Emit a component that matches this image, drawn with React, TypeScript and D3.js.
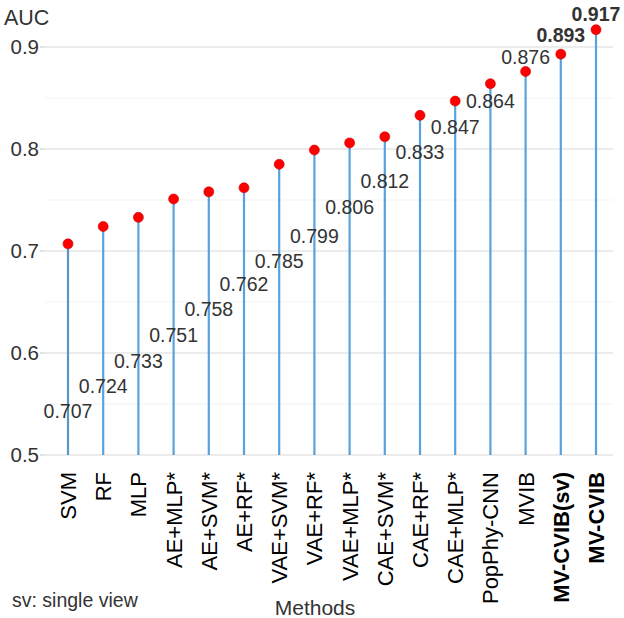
import React from 'react';
import * as d3 from 'd3';

const methods: string[] = [
    'SVM', 'RF', 'MLP', 'AE+MLP*', 'AE+SVM*', 'AE+RF*', 'VAE+SVM*', 'VAE+RF*',
    'VAE+MLP*', 'CAE+SVM*', 'CAE+RF*', 'CAE+MLP*', 'PopPhy-CNN', 'MVIB', 'MV-CVIB(sv)', 'MV-CVIB',
];
const auc: number[] = [
    0.707, 0.724, 0.733, 0.751, 0.758, 0.762, 0.785, 0.799,
    0.806, 0.812, 0.833, 0.847, 0.864, 0.876, 0.893, 0.917,
];
// where the value labels sit, in AUC units
const labelAt: number[] = [
    0.543, 0.568, 0.592, 0.618, 0.643, 0.668, 0.69, 0.715,
    0.743, 0.769, 0.797, 0.822, 0.847, 0.89, 0.912, 0.932,
];
const boldMethods: string[] = ['MV-CVIB(sv)', 'MV-CVIB'];
const majorTicks: number[] = [0.5, 0.6, 0.7, 0.8, 0.9];
const minorTicks: number[] = [0.55, 0.65, 0.75, 0.85];

const FONT = '"Liberation Sans", Arial, Helvetica, sans-serif';

const App: React.FC = () => {
    const width = 624;
    const height = 618;
    const plotLeft = 45;
    const plotRight = 613;

    const x = d3.scalePoint<string>().domain(methods).range([68, 596]);
    const y = d3.scaleLinear().domain([0.5, 0.9]).range([455, 47]);
    const fmt = d3.format('.1f');

    return (
        <svg
            width={width}
            height={height}
            style={{ position: 'absolute', left: 0, top: 0, background: '#fff' }}
            fontFamily={FONT}
        >
            {/* grid */}
            {minorTicks.map((t) => (
                <line key={'mi' + t} x1={plotLeft} x2={plotRight} y1={y(t)} y2={y(t)} stroke="#f3f3f3" strokeWidth={1.2} />
            ))}
            {majorTicks.map((t) => (
                <g key={'ma' + t}>
                    <line x1={plotLeft} x2={plotRight} y1={y(t)} y2={y(t)} stroke="#e6e6e6" strokeWidth={1.4} />
                    <line x1={plotLeft - 5} x2={plotLeft} y1={y(t)} y2={y(t)} stroke="#cfcfcf" strokeWidth={1.2} />
                    <text x={plotLeft - 6} y={y(t)} dy="0.36em" textAnchor="end" fontSize={20.5} fill="#333">
                        {fmt(t)}
                    </text>
                </g>
            ))}
            <text x={4} y={25} fontSize={21.5} fill="#333">AUC</text>

            {/* stems */}
            {methods.map((m, i) => (
                <line
                    key={'s' + m}
                    x1={x(m)}
                    x2={x(m)}
                    y1={y(0.5)}
                    y2={y(auc[i])}
                    stroke={i === 0 ? '#5896c4' : '#5aa2dc'}
                    strokeWidth={2.2}
                />
            ))}

            {/* value labels */}
            {methods.map((m, i) => (
                <text
                    key={'v' + m}
                    x={x(m)}
                    y={y(labelAt[i])}
                    dy="0.36em"
                    textAnchor="middle"
                    fontSize={19.5}
                    fill="#333"
                    fontWeight={boldMethods.includes(m) ? 'bold' : 'normal'}
                >
                    {auc[i].toFixed(3)}
                </text>
            ))}

            {/* points */}
            {methods.map((m, i) => (
                <circle key={'p' + m} cx={x(m)} cy={y(auc[i])} r={5} fill="#ff0000" stroke="#d00000" strokeWidth={0.6} />
            ))}

            {/* x labels */}
            {methods.map((m) => (
                <text
                    key={'x' + m}
                    transform={`translate(${x(m)},472) rotate(-90)`}
                    dy="0.36em"
                    textAnchor="end"
                    fontSize={22}
                    fill="#000"
                    fontWeight={boldMethods.includes(m) ? 'bold' : 'normal'}
                >
                    {m}
                </text>
            ))}

            <text x={12} y={607} fontSize={19.5} fill="#333">sv: single view</text>
            <text x={315} y={615} textAnchor="middle" fontSize={21} fill="#333">Methods</text>
        </svg>
    );
};

export default App;
